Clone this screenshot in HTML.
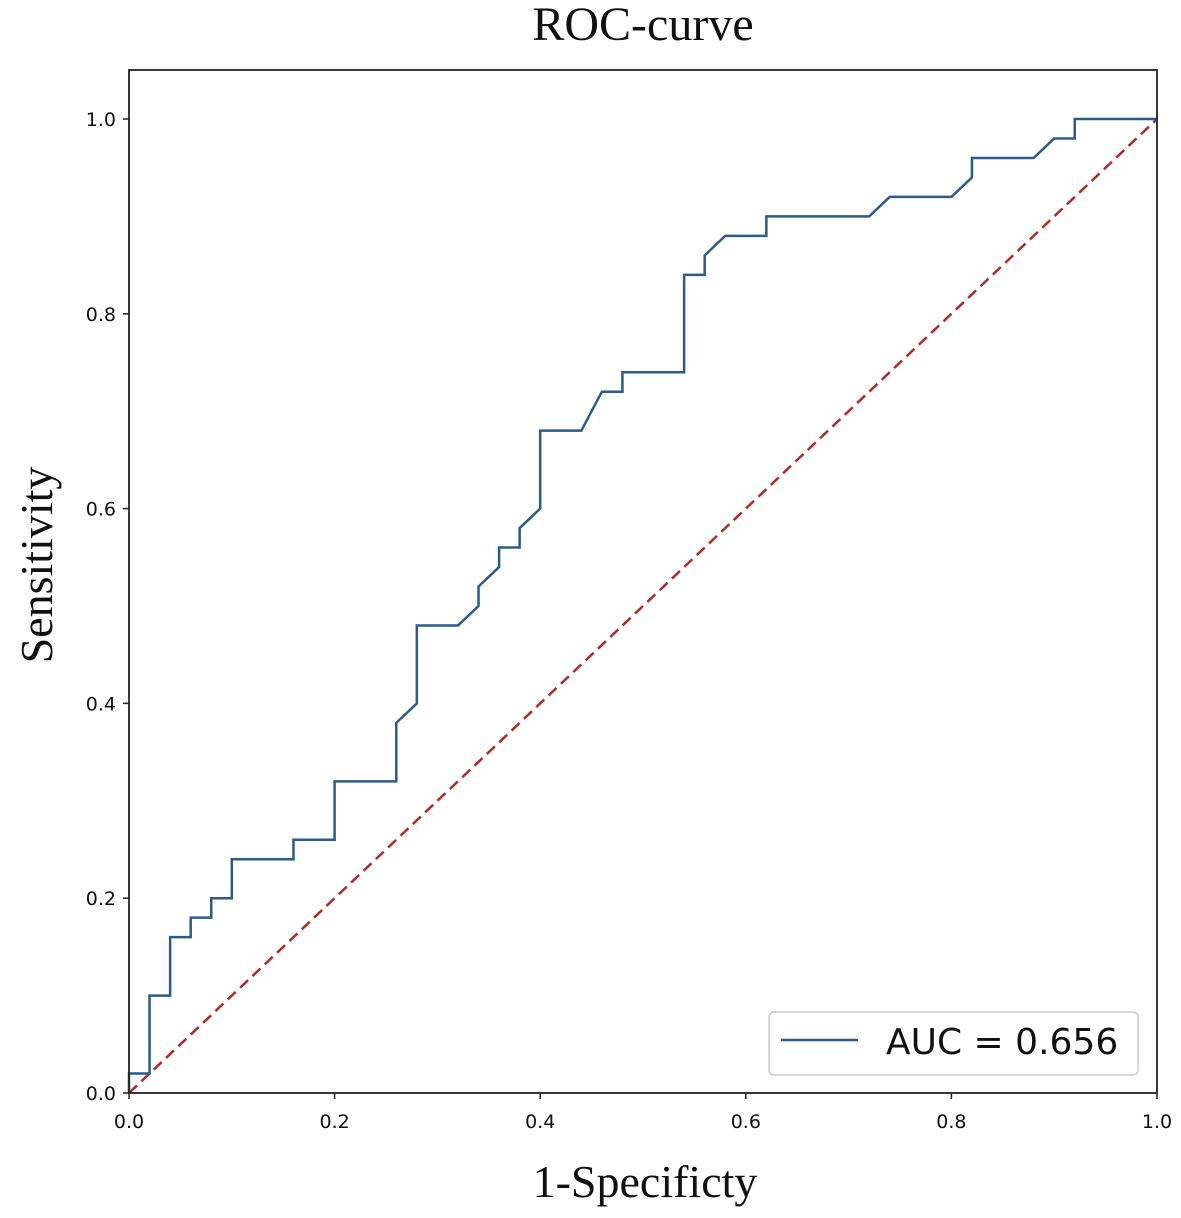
<!DOCTYPE html>
<html><head><meta charset="utf-8"><style>
body{margin:0;background:#fff;width:1181px;height:1213px;overflow:hidden}
svg text{fill:#111}
</style></head><body>
<svg id="chart" width="1181" height="1213" xmlns="http://www.w3.org/2000/svg">
<text x="643" y="40" text-anchor="middle" font-family="Liberation Serif, serif" font-size="48">ROC-curve</text>
<text x="645" y="1197" text-anchor="middle" font-family="Liberation Serif, serif" font-size="46">1-Specificty</text>
<text transform="translate(52,565) rotate(-90)" text-anchor="middle" font-family="Liberation Serif, serif" font-size="46">Sensitivity</text>
<g id="ticks"></g>
<path id="diag" fill="none" stroke="#b22a22" stroke-width="2.5" stroke-dasharray="11,6"/>
<path id="roc" fill="none" stroke="#2a5b8a" stroke-width="2.5"/>
<rect x="129" y="70" width="1028" height="1023" fill="none" stroke="#222" stroke-width="1.8"/>
<g>
<rect x="769" y="1012" width="369" height="63" rx="5" fill="#fff" stroke="#ccc" stroke-width="1.5"/>
<line x1="781" y1="1040" x2="858" y2="1040" stroke="#2a5b8a" stroke-width="2.5"/>
<text x="886" y="1054" font-family="DejaVu Sans, sans-serif" font-size="36">AUC = 0.656</text>
</g>
</svg>
<script>
const fprValues=[0,0,0.02,0.02,0.04,0.04,0.06,0.06,0.08,0.08,0.10,0.10,0.16,0.16,0.20,0.20,0.26,0.26,0.28,0.28,0.32,0.34,0.34,0.36,0.36,0.38,0.38,0.40,0.40,0.44,0.46,0.48,0.48,0.54,0.54,0.56,0.56,0.58,0.62,0.62,0.72,0.74,0.80,0.82,0.82,0.88,0.90,0.92,0.92,1.0];
const tprValues=[0,0.02,0.02,0.10,0.10,0.16,0.16,0.18,0.18,0.20,0.20,0.24,0.24,0.26,0.26,0.32,0.32,0.38,0.40,0.48,0.48,0.50,0.52,0.54,0.56,0.56,0.58,0.60,0.68,0.68,0.72,0.72,0.74,0.74,0.84,0.84,0.86,0.88,0.88,0.90,0.90,0.92,0.92,0.94,0.96,0.96,0.98,0.98,1.0,1.0];
const tickValues=[0,0.2,0.4,0.6,0.8,1.0];
const tickLabels=["0.0","0.2","0.4","0.6","0.8","1.0"];
const xs=v=>129+v*1028, ys=v=>1093-v*974;
const NS="http://www.w3.org/2000/svg";
document.getElementById('roc').setAttribute('d',fprValues.map((x,i)=>(i?'L':'M')+xs(x)+','+ys(tprValues[i])).join(''));
document.getElementById('diag').setAttribute('d','M'+xs(0)+','+ys(0)+'L'+xs(1)+','+ys(1));
const g=document.getElementById('ticks');
tickValues.forEach((v,i)=>{
  let l=document.createElementNS(NS,'line');
  
  
  l.setAttribute('x1',xs(v));l.setAttribute('x2',xs(v));l.setAttribute('y1',1093);l.setAttribute('y2',1099);l.setAttribute('stroke','#222');l.setAttribute('stroke-width','1.5');g.appendChild(l);
  let t=document.createElementNS(NS,'text');
  
  
  t.setAttribute('x',xs(v));t.setAttribute('y',1128);t.setAttribute('text-anchor','middle');t.setAttribute('font-family','DejaVu Sans, sans-serif');t.setAttribute('font-size','19');t.textContent=tickLabels[i];g.appendChild(t);
  let l2=document.createElementNS(NS,'line');
  
  
  l2.setAttribute('x1',123);l2.setAttribute('x2',129);l2.setAttribute('y1',ys(v));l2.setAttribute('y2',ys(v));l2.setAttribute('stroke','#222');l2.setAttribute('stroke-width','1.5');g.appendChild(l2);
  let t2=document.createElementNS(NS,'text');
  
  
  t2.setAttribute('x',116);t2.setAttribute('y',ys(v)+7);t2.setAttribute('text-anchor','end');t2.setAttribute('font-family','DejaVu Sans, sans-serif');t2.setAttribute('font-size','19');t2.textContent=tickLabels[i];g.appendChild(t2);
});
</script>
</body></html>
